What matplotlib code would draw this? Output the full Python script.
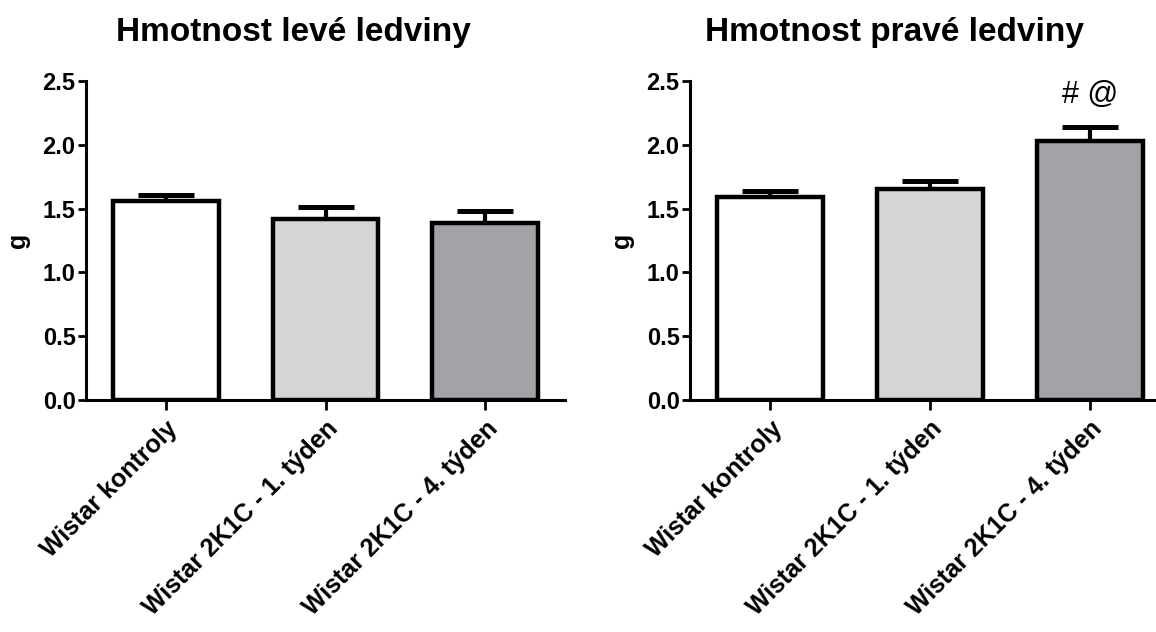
import matplotlib
matplotlib.use("Agg")
import matplotlib.pyplot as plt
import numpy as np

plt.rcParams['font.family'] = ['Liberation Sans', 'DejaVu Sans']

categories = ["Wistar kontroly", "Wistar 2K1C - 1. týden", "Wistar 2K1C - 4. týden"]
left_title = "Hmotnost levé ledviny"
right_title = "Hmotnost pravé ledviny"
left_means = [1.56, 1.42, 1.39]
left_sem = [0.045, 0.09, 0.09]
right_means = [1.59, 1.65, 2.03]
right_sem = [0.05, 0.07, 0.11]
annotation = "# @"
annot_index = 2
y_ticks = [0.0, 0.5, 1.0, 1.5, 2.0, 2.5]
bar_colors = ["#ffffff", "#d5d5d5", "#a3a2a6"]

fig = plt.figure(figsize=(11.56, 6.32), dpi=100)
W, H = 1156, 632

def panel(rect, means, sem, title, title_x):
    ax = fig.add_axes(rect)
    x = np.arange(len(categories))
    ax.bar(x, means, width=0.66, color=bar_colors, edgecolor='black', linewidth=3.2, zorder=3)
    ax.errorbar(x, means, yerr=[np.zeros(len(sem)), sem], fmt='none', ecolor='black',
                elinewidth=3, capsize=20, capthick=3.6, zorder=2)
    ax.set_xlim(-0.5, 2.5)
    ax.set_ylim(0, 2.5)
    ax.set_yticks(y_ticks)
    ax.set_yticklabels([f"{v:.1f}" for v in y_ticks], fontsize=17, fontweight='bold')
    ax.set_xticks(x)
    ax.set_xticklabels(categories, rotation=45, ha='right', rotation_mode='anchor',
                       fontsize=18, fontweight='bold')
    ax.set_ylabel("g", fontsize=18, fontweight='bold', labelpad=9)
    ax.text(title_x, 1.125, title, transform=ax.transAxes, ha='center', va='baseline',
            fontsize=24, fontweight='bold')
    for s in ['top', 'right']:
        ax.spines[s].set_visible(False)
    for s in ['left', 'bottom']:
        ax.spines[s].set_linewidth(2.2)
    ax.tick_params(axis='y', direction='out', length=6, width=2, pad=1.5)
    ax.tick_params(axis='x', direction='out', length=7, width=2, pad=5)
    ax.spines['bottom'].set_zorder(4)
    return ax

axL = panel([86 / W, 1 - 400 / H, 479 / W, 319 / H],
            left_means, left_sem, left_title, 0.434)
axR = panel([690 / W, 1 - 400 / H, 480 / W, 319 / H],
            right_means, right_sem, right_title, 0.427)
axR.text(annot_index, right_means[annot_index] + right_sem[annot_index] + 0.25, annotation,
         ha='center', va='center', fontsize=22)

fig.savefig("out.png", dpi=100)
